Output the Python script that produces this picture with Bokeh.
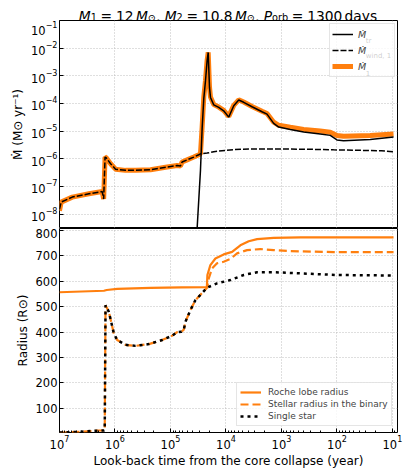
from bokeh.plotting import figure
from bokeh.models import Range1d, FixedTicker, Legend, LegendItem
from bokeh.core.properties import value
from bokeh.layouts import column
from bokeh.embed import file_html
from bokeh.resources import INLINE

# ---------------- data ----------------
# top panel: mass-loss / transfer rates (Msun / yr) vs look-back time (yr)
t_wind = [1.0e7, 9.33e6, 5.89e6, 2.95e6, 1.70e6, 1.60e6, 1.51e6, 1.45e6, 1.20e6, 9.77e5,
          6.46e5, 4.27e5, 2.29e5, 1.15e5, 7.59e4, 6.61e4, 6.17e4, 5.01e4, 3.80e4, 3.09e4,
          2.88e4, 2.19e4, 1.66e4, 7.24e3, 3.63e3, 1.0e3, 316, 115, 31.6, 15.8, 9.55]
mdot_wind = [1.5e-8, 2.7e-8, 4.1e-8, 5.4e-8, 6.5e-8, 3.5e-8, 1.15e-6, 1.1e-6, 6.6e-7, 4.2e-7,
             3.8e-7, 3.8e-7, 4.0e-7, 5.0e-7, 5.7e-7, 5.5e-7, 7.6e-7, 9.1e-7, 1.15e-6, 1.4e-6,
             1.5e-6, 1.6e-6, 1.8e-6, 2.15e-6, 2.25e-6, 2.25e-6, 2.2e-6, 2.1e-6, 2.0e-6, 1.95e-6, 1.8e-6]

t_tr = [3.72e4, 3.31e4, 2.88e4, 2.69e4, 2.51e4, 2.34e4, 2.19e4, 2.09e4, 1.98e4, 1.90e4,
        1.66e4, 1.35e4, 1.10e4, 8.91e3, 7.24e3, 5.89e3, 4.79e3, 3.39e3, 2.24e3, 1.82e3,
        1.38e3, 1.12e3, 692, 398, 200, 132, 100, 75.9, 25.1, 9.55]
mdot_tr = [1e-10, 3e-9, 3.8e-7, 1.2e-5, 1.5e-4, 6.5e-4, 3.4e-3, 7.0e-3, 3.8e-4, 1.65e-4,
           8.9e-5, 7.2e-5, 5.4e-5, 3.2e-5, 8.3e-5, 1.33e-4, 1.1e-4, 7.6e-5, 5.0e-5, 4.1e-5,
           1.9e-5, 1.4e-5, 1.15e-5, 9.3e-6, 7.9e-6, 7.0e-6, 4.8e-6, 4.5e-6, 5.0e-6, 6.1e-6]

t_m1 = [1.0e7, 9.33e6, 5.89e6, 2.95e6, 1.70e6, 1.60e6, 1.51e6, 1.45e6, 1.20e6, 9.77e5,
        6.46e5, 4.27e5, 2.29e5, 1.15e5, 7.59e4, 6.61e4, 6.17e4, 5.01e4, 3.80e4, 3.09e4,
        2.88e4, 2.69e4, 2.51e4, 2.34e4, 2.19e4, 2.09e4, 1.98e4, 1.90e4, 1.66e4, 1.35e4,
        1.10e4, 8.91e3, 7.24e3, 5.89e3, 4.79e3, 3.39e3, 2.24e3, 1.82e3, 1.38e3, 1.12e3,
        692, 398, 200, 132, 100, 75.9, 25.1, 9.55]
mdot_1 = [1.3e-8, 2.7e-8, 4.1e-8, 5.4e-8, 6.5e-8, 3.5e-8, 1.15e-6, 1.1e-6, 6.6e-7, 4.2e-7,
          3.8e-7, 3.8e-7, 4.0e-7, 5.0e-7, 5.7e-7, 5.5e-7, 7.6e-7, 9.1e-7, 1.15e-6, 1.4e-6,
          1.5e-6, 1.4e-5, 1.7e-4, 6.8e-4, 3.5e-3, 7.1e-3, 3.9e-4, 1.7e-4, 9.1e-5, 7.4e-5,
          5.6e-5, 3.4e-5, 8.5e-5, 1.35e-4, 1.12e-4, 7.8e-5, 5.2e-5, 4.3e-5, 2.1e-5, 1.62e-5,
          1.38e-5, 1.15e-5, 1.0e-5, 9.1e-6, 6.9e-6, 6.5e-6, 6.9e-6, 7.9e-6]

# bottom panel: radii (Rsun)
t_roche = [1.0e7, 1.58e6, 1.41e6, 9.12e5, 2.29e5, 6.31e4, 2.21e4, 2.16e4, 1.91e4, 1.55e4,
           1.10e4, 7.76e3, 5.50e3, 3.89e3, 2.75e3, 1.38e3, 457, 9.55]
r_roche = [557, 563, 566, 570, 574, 576, 577, 625, 664, 690,
           706, 716, 742, 758, 766, 771, 773, 773]

t_star = [1.0e7, 3.98e6, 2.24e6, 1.58e6, 1.53e6, 1.48e6, 1.29e6, 1.05e6, 9.12e5, 6.46e5,
          4.27e5, 2.45e5, 1.41e5, 9.33e4, 7.59e4, 6.31e4, 5.75e4, 5.37e4, 4.37e4, 3.55e4,
          2.88e4, 2.19e4, 2.04e4, 1.78e4, 1.45e4, 1.10e4, 8.32e3, 6.31e3, 4.17e3, 2.40e3,
          1.38e3, 692, 457, 115, 9.55]
r_star = [5, 8, 12, 13, 14, 506, 480, 395, 369, 350,
          346, 353, 369, 386, 400, 402, 410, 441, 487, 526,
          547, 575, 612, 651, 671, 677, 688, 710, 723, 727,
          723, 719, 718, 715, 715]

t_single = [1.0e7, 3.98e6, 2.24e6, 1.58e6, 1.53e6, 1.48e6, 1.29e6, 1.05e6, 9.12e5, 6.46e5,
            4.27e5, 2.45e5, 1.41e5, 9.33e4, 7.59e4, 6.31e4, 5.75e4, 5.37e4, 4.37e4, 3.55e4,
            2.88e4, 2.19e4, 1.45e4, 8.32e3, 4.79e3, 2.75e3, 1.38e3, 525, 100, 9.55]
r_single = [5, 8, 12, 13, 14, 506, 480, 395, 369, 350,
            346, 353, 369, 386, 400, 402, 410, 441, 487, 526,
            547, 575, 592, 605, 625, 636, 636, 632, 625, 623]

x_major = [1e7, 1e6, 1e5, 1e4, 1e3, 1e2, 1e1]
y_top_major = [1e-8, 1e-7, 1e-6, 1e-5, 1e-4, 1e-3, 1e-2, 1e-1]
y_bot_major = [100, 200, 300, 400, 500, 600, 700, 800]

# title pieces: (text, font style, size class)
title_pieces = [("M", "italic", "main"), ("1", "normal", "sub"), ("=", "normal", "main"),
                ("12", "normal", "main"), ("M", "italic", "main"), ("⊙", "normal", "sub"),
                (",", "normal", "main"), ("M", "italic", "main"), ("2", "normal", "sub"),
                ("=", "normal", "main"), ("10.8", "normal", "main"), ("M", "italic", "main"),
                ("⊙", "normal", "sub"), (",", "normal", "main"), ("P", "italic", "main"),
                ("orb", "normal", "sub"), ("=", "normal", "main"), ("1300", "normal", "main"),
                ("days", "normal", "main")]
# horizontal placement of each title piece (px from the left edge of the page)
title_x = [78.3, 90.2, 100.1, 115.5, 135.4, 147.3, 155.4, 164.2, 176.1, 186.0, 201.4,
           234.4, 246.3, 254.4, 263.2, 271.5, 291.3, 306.7, 344.1]

# legend subscripts of the top panel
leg_sub_text = ["tr", "wind, 1", "1"]

ORANGE = "#ff7f0e"
FONT = "DejaVu Sans"

W = 407
LEFT = 59
RIGHT = 10

# ---------------- title strip ----------------
p0 = figure(width=W, height=20, x_range=Range1d(LEFT, W - RIGHT), y_range=Range1d(0, 20),
            x_axis_location=None, y_axis_location=None, output_backend="svg",
            toolbar_location=None, min_border_left=LEFT, min_border_right=RIGHT,
            min_border_top=0, min_border_bottom=0)
p0.outline_line_color = None
p0.grid.visible = False
for (txt, st, cls), xi in zip(title_pieces, title_x):
    p0.text(x=[xi], y=[4.7 if cls == "main" else 3.2], text=[txt],
            text_font=value(FONT), text_font_size="13.8px" if cls == "main" else "9.7px",
            text_font_style=st, text_color="black", text_baseline="alphabetic",
            text_align="left")

# ---------------- figures ----------------
x_rng = Range1d(1e7, 8.1)

p1 = figure(width=W, height=208, x_axis_type="log", y_axis_type="log",
            x_range=x_rng, y_range=Range1d(3.0e-9, 0.1), x_axis_location=None,
            output_backend="svg", toolbar_location=None,
            min_border_left=LEFT, min_border_right=RIGHT, min_border_top=0, min_border_bottom=0)
p2 = figure(width=W, height=242, x_axis_type="log",
            x_range=x_rng, y_range=Range1d(5, 808),
            output_backend="svg", toolbar_location=None,
            min_border_left=LEFT, min_border_right=RIGHT, min_border_top=0, min_border_bottom=37)

minor = [m * 10 ** e for e in range(0, 7) for m in range(2, 10)]
xt = FixedTicker(ticks=x_major, minor_ticks=minor)
p2.xaxis.ticker = xt
p1.xgrid.ticker = FixedTicker(ticks=x_major)
p1.yaxis.ticker = FixedTicker(ticks=y_top_major)
p2.yaxis.ticker = FixedTicker(ticks=y_bot_major)

for p in (p1, p2):
    p.outline_line_color = "black"
    p.outline_line_width = 1
    p.outline_line_alpha = 1
    p.background_fill_color = "white"
    p.border_fill_color = "white"
    for g in p.grid:
        g.grid_line_color = "#b0b0b0"
        g.grid_line_dash = "1 2"
        g.grid_line_alpha = 0.8
    for ax in p.axis:
        ax.axis_line_color = None
        ax.major_tick_in = 4
        ax.major_tick_out = 0
        ax.minor_tick_in = 2
        ax.minor_tick_out = 0
        ax.major_tick_line_color = "black"
        ax.minor_tick_line_color = "black"
        ax.major_label_text_font = FONT
        ax.major_label_text_font_size = "11.5px"
        ax.major_label_text_color = "black"
        ax.major_label_standoff = 2
        ax.axis_label_text_font = FONT
        ax.axis_label_text_font_size = "12px"
        ax.axis_label_text_font_style = "normal"
        ax.axis_label_text_color = "black"
        ax.axis_label_standoff = 3

p1.yaxis.axis_label = "Ṁ (M⊙ yr⁻¹)"
p2.yaxis.axis_label = "Radius (R⊙)"
p2.xaxis.axis_label = "Look-back time from the core collapse (year)"
p2.xaxis.axis_label_standoff = 2
p2.xaxis.major_label_standoff = 2

# ---------------- top panel lines ----------------
r_m1 = p1.line(t_m1, mdot_1, line_color=ORANGE, line_width=5)
r_tr = p1.line(t_tr, mdot_tr, line_color="black", line_width=1.5)
r_wind = p1.line(t_wind, mdot_wind, line_color="black", line_width=1.5, line_dash="6 2")

leg1 = Legend(items=[LegendItem(label="Ṁ", renderers=[r_tr]),
                     LegendItem(label="Ṁ", renderers=[r_wind]),
                     LegendItem(label="Ṁ", renderers=[r_m1])],
              location=(270, 151), margin=0, padding=2, spacing=0,
              glyph_width=21, glyph_height=16, label_height=16, label_width=34,
              label_standoff=5, label_text_font=FONT, label_text_font_size="9.5px",
              label_text_font_style="italic", border_line_color="#cccccc",
              border_line_width=1, background_fill_alpha=0.8)
p1.add_layout(leg1)

# subscripts next to the legend's M-dot labels (drawn above the legend box)
sub_r = p1.text(x=[30.2, 30.2, 30.2], y=[1.888e-2, 4.99e-3, 1.315e-3], text=leg_sub_text,
                text_font=value(FONT), text_font_size="7px", text_color="black",
                text_baseline="alphabetic", text_align="left")
sub_r.level = "overlay"

# ---------------- bottom panel lines ----------------
r_r = p2.line(t_roche, r_roche, line_color=ORANGE, line_width=2.2)
r_s = p2.line(t_star, r_star, line_color=ORANGE, line_width=2.2, line_dash="8 4")
r_1 = p2.line(t_single, r_single, line_color="black", line_width=2.5, line_dash="3 4")

leg2 = Legend(items=[LegendItem(label="Roche lobe radius", renderers=[r_r]),
                     LegendItem(label="Stellar radius in the binary", renderers=[r_s]),
                     LegendItem(label="Single star", renderers=[r_1])],
              location=(177, 6), margin=0, padding=3, spacing=0,
              glyph_width=21, glyph_height=12, label_height=12,
              label_standoff=7, label_text_font=FONT, label_text_font_size="9px",
              border_line_color="#cccccc", border_line_width=1, background_fill_alpha=0.8)
p2.add_layout(leg2)

layout = column(p0, p1, p2, spacing=0)
open("out.html", "w").write(file_html(layout, INLINE))
